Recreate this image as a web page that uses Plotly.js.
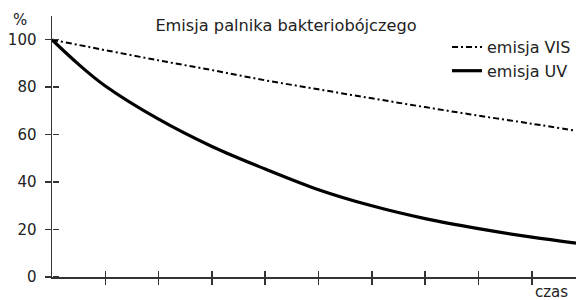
<!DOCTYPE html>
<html>
<head>
<meta charset="utf-8">
<script src="https://cdn.plot.ly/plotly-3.0.1.min.js"></script>
<style>html,body{margin:0;padding:0;background:#fff;}#chart{width:576px;height:300px;}</style>
</head>
<body>
<div id="chart"></div>
<script>
// time (arbitrary units, unlabeled axis)
const time = [0, 0.5, 1, 2, 3, 4, 5, 6, 7, 8, 9, 9.83];
// emission in %
const visValues = [100, 97.8, 95.6, 91.3, 87.2, 82.9, 79.1, 75.3, 71.6, 68.0, 64.6, 61.6];
const uvValues  = [100, 89.6, 80.5, 66.5, 55.0, 45.5, 36.8, 30.0, 24.6, 20.4, 16.8, 14.3];
const seriesNames = ['emisja VIS', 'emisja UV'];
const yTicks = [0, 20, 40, 60, 80, 100];
const xTicks = [1, 2, 3, 4, 5, 6, 7, 8, 9];

const FONT = 'DejaVu Sans, Verdana, sans-serif';
const AX = '#333';

const traces = [
  {x: time, y: visValues, name: seriesNames[0], mode: 'lines', xaxis: 'x', yaxis: 'y',
   line: {color: '#000', width: 2, dash: '6px,3px,2px,3px', shape: 'spline'}},
  {x: time, y: uvValues, name: seriesNames[1], mode: 'lines', xaxis: 'x2', yaxis: 'y2',
   line: {color: '#000', width: 3.2, shape: 'spline'}}
];

const xr = [0, 9.83], yr = [0, 110];
const layout = {
  width: 576, height: 300,
  margin: {l: 52, r: 0, t: 16, b: 23},
  paper_bgcolor: '#fff', plot_bgcolor: '#fff',
  font: {family: FONT, size: 15, color: '#222'},
  showlegend: true,
  legend: {x: 1, xanchor: 'right', y: 1 - (30 - 16) / 261, yanchor: 'top',
           bgcolor: 'rgba(0,0,0,0)', font: {family: FONT, size: 16, color: '#222'},
           traceorder: 'normal'},
  title: {text: 'Emisja palnika bakteriobójczego', x: 286 / 576, xanchor: 'center',
          y: 1 - 25 / 300, yanchor: 'middle', yref: 'container',
          font: {family: FONT, size: 16.2, color: '#222'}},
  xaxis: {range: xr, tickvals: xTicks, showticklabels: false, ticks: 'outside', ticklen: 6,
          tickcolor: AX, tickwidth: 1.5, showline: true, linecolor: AX, linewidth: 1.5,
          showgrid: false, zeroline: false, anchor: 'y'},
  xaxis2: {range: xr, overlaying: 'x', tickvals: xTicks, showticklabels: false, ticks: 'outside',
           ticklen: 6, tickcolor: AX, tickwidth: 1.5, showline: false, showgrid: false,
           zeroline: false, anchor: 'free', position: 0, side: 'top'},
  yaxis: {range: yr, tickvals: yTicks, ticks: 'outside', ticklen: 6, tickcolor: AX, tickwidth: 1.5,
          showline: true, linecolor: AX, linewidth: 1.5, showgrid: false, zeroline: false,
          ticklabelstandoff: 5, anchor: 'x', tickfont: {family: FONT, size: 15, color: '#222'}},
  yaxis2: {range: yr, overlaying: 'y', tickvals: yTicks, showticklabels: false, ticks: 'outside',
           ticklen: 6, tickcolor: AX, tickwidth: 1.5, showline: false, showgrid: false,
           zeroline: false, anchor: 'free', position: 0, side: 'right'},
  annotations: [
    {text: '%', xref: 'paper', yref: 'paper', x: (20 - 52) / 524, y: (277 - 20) / 261,
     xanchor: 'center', yanchor: 'middle', showarrow: false,
     font: {family: FONT, size: 15, color: '#222'}},
    {text: 'czas', xref: 'paper', yref: 'paper', x: (551 - 52) / 524, y: (277 - 292) / 261,
     xanchor: 'center', yanchor: 'middle', showarrow: false,
     font: {family: FONT, size: 15, color: '#222'}}
  ]
};

Plotly.newPlot('chart', traces, layout, {staticPlot: true, displayModeBar: false});
</script>
</body>
</html>
